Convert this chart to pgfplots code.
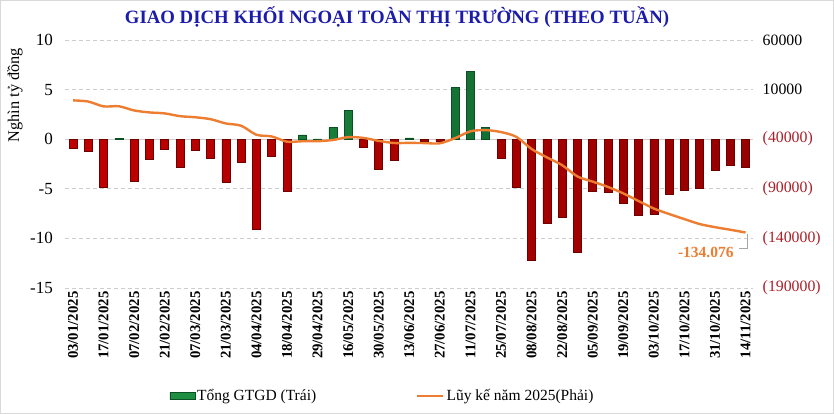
\documentclass[border=0pt]{standalone}
\usepackage{pgfplots}
\pgfplotsset{compat=1.18}
\usepackage{fontspec}
\setmainfont{Liberation Serif}
\definecolor{titleblue}{RGB}{28,28,170}
\definecolor{negred}{RGB}{170,30,40}
\definecolor{barred}{RGB}{236,20,20}
\definecolor{barredmd}{RGB}{192,0,0}
\definecolor{barredrt}{RGB}{150,0,0}
\definecolor{barreddk}{RGB}{110,0,0}
\definecolor{bargreen}{RGB}{60,192,100}
\definecolor{bargreenmd}{RGB}{30,142,66}
\definecolor{bargreenrt}{RGB}{20,112,50}
\definecolor{bargreendk}{RGB}{10,80,35}
\definecolor{lineorange}{RGB}{237,125,49}
\definecolor{gridgray}{RGB}{205,205,205}

\pgfplotstableread{
x y
0 -0.87
1 -1.2
2 -4.85
4 -4.2
5 -2.0
6 -0.97
7 -2.8
8 -1.1
9 -1.95
10 -4.3
11 -2.3
12 -9.1
13 -1.7
14 -5.25
19 -0.77
20 -3.0
21 -2.15
23 -0.2
24 -0.2
28 -1.95
29 -4.85
30 -12.2
31 -8.45
32 -7.85
33 -11.4
34 -5.22
35 -5.35
36 -6.5
37 -7.7
38 -7.55
39 -5.55
40 -5.13
41 -4.97
42 -3.15
43 -2.6
44 -2.8
}\negbars

\pgfplotstableread{
x y
3 0.1
15 0.44
16 0.03
17 1.2
18 2.9
22 0.13
25 5.2
26 6.85
27 1.2
}\posbars

\pgfplotstableread{
x y
0 -870
1 -2070
2 -6920
3 -6820
4 -11020
5 -13020
6 -13990
7 -16790
8 -17890
9 -19840
10 -24140
11 -26440
12 -35540
13 -37240
14 -42490
15 -42050
16 -42020
17 -40820
18 -37920
19 -38690
20 -41690
21 -43840
22 -43710
23 -43910
24 -44110
25 -38910
26 -32060
27 -30860
28 -32810
29 -37660
30 -49860
31 -58310
32 -66160
33 -77560
34 -82780
35 -88130
36 -94630
37 -102330
38 -109880
39 -115430
40 -120560
41 -125530
42 -128680
43 -131280
44 -134076
}\cumline

\begin{document}
\begin{tikzpicture}
\useasboundingbox (0pt,0pt) rectangle (834pt,414pt);
\draw[gray!30, line width=1pt] (0.5pt,0.5pt) rectangle (833.5pt,413.5pt);

\node[font=\fontsize{18.8}{22}\selectfont\bfseries, text=titleblue] at (397pt,397pt) {GIAO DỊCH KHỐI NGOẠI TOÀN THỊ TRƯỜNG (THEO TUẦN)};
\node[font=\fontsize{16.3}{19}\selectfont, rotate=90] at (15pt,319pt) {Nghìn tỷ đồng};

\begin{axis}[
  at={(65.4pt,126pt)}, anchor=south west,
  scale only axis, width=687.8pt, height=248pt,
  xmin=-0.5, xmax=44.5, ymin=-15, ymax=10,
  axis line style={draw=none},
  major tick length=0pt,
  ytick={-15,-10,-5,0,5,10},
  yticklabels={-15,-10,-5,0,5,10},
  yticklabel style={font=\fontsize{17}{20}\selectfont, xshift=-9pt},
  xtick={0,2,...,44},
  xticklabels={03/01/2025,17/01/2025,07/02/2025,21/02/2025,07/03/2025,21/03/2025,04/04/2025,18/04/2025,29/04/2025,16/05/2025,30/05/2025,13/06/2025,27/06/2025,11/07/2025,25/07/2025,08/08/2025,22/08/2025,05/09/2025,19/09/2025,03/10/2025,17/10/2025,31/10/2025,14/11/2025},
  xticklabel style={font=\fontsize{14.8}{17}\selectfont\bfseries, rotate=90, anchor=east},
  ymajorgrids,
  grid style={gridgray, line width=0.8pt, dash pattern=on 4pt off 3pt},
  extra y ticks={0}, extra y tick labels={},
  extra y tick style={grid style={solid, gridgray, line width=1.2pt}},
]
\addplot[ybar, bar width=8pt, bar shift=0pt, draw=barreddk, line width=0.6pt, left color=barredmd, middle color=barred, right color=barredrt] table[x=x,y=y] {\negbars};
\addplot[ybar, bar width=8pt, bar shift=0pt, draw=bargreendk, line width=0.6pt, left color=bargreenmd, middle color=bargreen, right color=bargreenrt] table[x=x,y=y] {\posbars};
\end{axis}

\begin{axis}[
  at={(65.4pt,126pt)}, anchor=south west,
  scale only axis, width=687.8pt, height=248pt,
  xmin=-0.5, xmax=44.5, ymin=-190000, ymax=60000,
  scaled y ticks=false,
  axis x line=none,
  axis y line*=right,
  axis line style={draw=none},
  major tick length=0pt,
  ytick={-190000,-140000,-90000,-40000,10000,60000},
  yticklabels={{\color{negred}(190000)},{\color{negred}(140000)},{\color{negred}(90000)},{\color{negred}(40000)},10000,60000},
  yticklabel style={font=\fontsize{15.8}{18}\selectfont, anchor=west, xshift=6pt},
  clip=false,
  legend style={at={(0.461,-0.435)}, anchor=center, draw=none, fill=none,
    font=\fontsize{15.5}{18}\selectfont, legend columns=2,
    /tikz/column 2/.style={column sep=98pt}},
]
\addlegendimage{legend image code/.code={\draw[draw=bargreendk, line width=0.6pt, top color=bargreenmd, middle color=bargreen!80!white, bottom color=bargreenmd] (0pt,-3.5pt) rectangle (25pt,3.5pt);}}
\addlegendentry{Tổng GTGD (Trái)}
\addplot[lineorange, line width=2.4pt, smooth, tension=0.5, legend image code/.code={\draw[lineorange, line width=2.4pt] (0pt,0pt) -- (26pt,0pt);}] table[x=x,y=y] {\cumline};
\addlegendentry{Lũy kế năm 2025(Phải)}
\draw[gray!70, line width=0.8pt] (axis cs:43.6,-150000) -- (axis cs:44.1,-150000) -- (axis cs:44.1,-135500);
\node[font=\fontsize{15.5}{18}\selectfont\bfseries, text=lineorange] at (axis cs:41.4,-153800) {-134.076};
\end{axis}
\end{tikzpicture}
\end{document}
